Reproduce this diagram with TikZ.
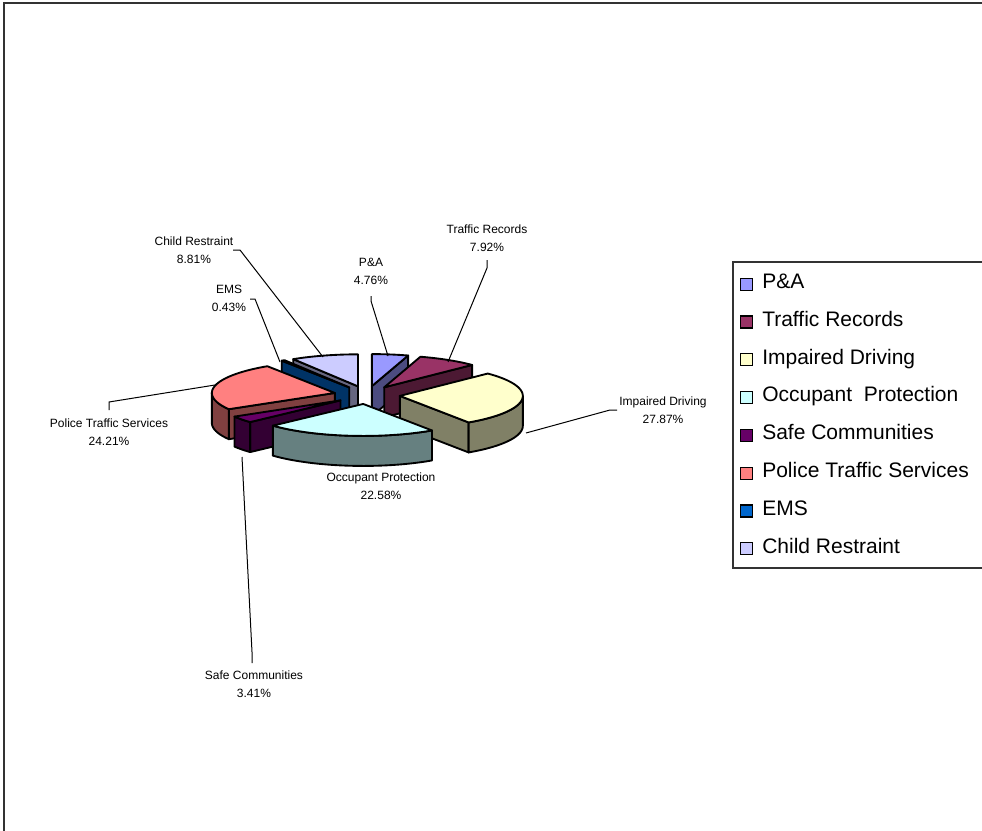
\documentclass[tikz,border=0pt]{standalone}
\usepackage{fontspec}
\setmainfont{Liberation Sans}
\definecolor{cpa}{HTML}{9999FF}
\definecolor{ctr}{HTML}{993366}
\definecolor{cid}{HTML}{FFFFCC}
\definecolor{cop}{HTML}{CCFFFF}
\definecolor{csc}{HTML}{660066}
\definecolor{cpt}{HTML}{FF8080}
\definecolor{cems}{HTML}{0066CC}
\definecolor{ccr}{HTML}{CCCCFF}
\tikzset{
    pieedge/.style={draw=black, line width=1.4pt, line join=round},
    leader/.style={draw=black, line width=0.75pt},
    lbl/.style={font=\fontsize{9}{13.5}\selectfont, align=center, inner sep=0pt},
    legkey/.style={draw=black, line width=0.8pt, minimum size=9pt, inner sep=0pt},
    legtext/.style={font=\fontsize{15.75}{18}\selectfont, anchor=base west, inner sep=0pt},
}
% pie centre, radii, depth and explode offset (in px)
\newcommand{\pcx}{367}
\newcommand{\pcy}{395}
\newcommand{\prx}{123}
\newcommand{\pry}{32}
\newcommand{\pdepth}{30}
\newcommand{\pex}{33}
\newcommand{\pey}{9}
% #1 start angle, #2 end angle (clockwise), #3 top colour, #4 side colour
\newcommand{\pieslice}[4]{%
    \pgfmathsetmacro{\slmid}{(#1+#2)/2}%
    \pgfmathsetmacro{\slx}{\pcx+\pex*cos(\slmid)}%
    \pgfmathsetmacro{\sly}{\pcy-\pey*sin(\slmid)}%
    \pgfmathtruncatemacro{\showa}{cos(#1)<-0.01 ? 1 : 0}%
    \pgfmathtruncatemacro{\showb}{cos(#2)>0.01 ? 1 : 0}%
    \pgfmathsetmacro{\wa}{max(#2,-180)}%
    \pgfmathsetmacro{\wb}{min(#1,0)}%
    \pgfmathtruncatemacro{\showw}{\wa<\wb ? 1 : 0}%
    \ifnum\showa=1
        \filldraw[pieedge, fill=#4] (\slx,\sly) -- ({\slx+\prx*cos(#1)},{\sly-\pry*sin(#1)}) -- ++(0,\pdepth) -- (\slx,{\sly+\pdepth}) -- cycle;
    \fi
    \ifnum\showb=1
        \filldraw[pieedge, fill=#4] (\slx,\sly) -- ({\slx+\prx*cos(#2)},{\sly-\pry*sin(#2)}) -- ++(0,\pdepth) -- (\slx,{\sly+\pdepth}) -- cycle;
    \fi
    \ifnum\showw=1
        \filldraw[pieedge, fill=#4] plot[domain=\wa:\wb, samples=30] ({\slx+\prx*cos(\x)},{\sly-\pry*sin(\x)})
            -- plot[domain=\wb:\wa, samples=30] ({\slx+\prx*cos(\x)},{\sly+\pdepth-\pry*sin(\x)}) -- cycle;
    \fi
    \filldraw[pieedge, fill=#3] (\slx,\sly) -- plot[domain=#1:#2, samples=40] ({\slx+\prx*cos(\x)},{\sly-\pry*sin(\x)}) -- cycle;
}

\begin{document}
\begin{tikzpicture}[x=0.75pt, y=-0.75pt]
    \useasboundingbox[fill=white] (0,0) rectangle (982,831);
    \draw[line width=1.5pt, black!80] (4,831) -- (4,3) -- (982,3);

    % back slices first
    \pieslice{90}{72.864}{cpa}{cpa!50!black}
    \pieslice{-238.248}{-270}{ccr}{ccr!50!black}
    \pieslice{-236.7}{-238.248}{cems}{cems!50!black}
    \pieslice{72.864}{44.352}{ctr}{ctr!50!black}
    \pieslice{-149.544}{-236.7}{cpt}{cpt!50!black}
    \pieslice{44.352}{-55.98}{cid}{cid!50!black}
    \pieslice{-137.268}{-149.544}{csc}{csc!50!black}
    \pieslice{-55.98}{-137.268}{cop}{cop!50!black}

    \node[lbl] (lbltr) at (487,238.5) {Traffic Records\\7.92\%};
    \node[lbl] (lblpa) at (371,271) {P\&A\\4.76\%};
    \node[lbl] (lblcr) at (194,250) {Child Restraint\\8.81\%};
    \node[lbl] (lblems) at (229,298.5) {EMS\\0.43\%};
    \node[lbl] (lblpt) at (109,432) {Police Traffic Services\\24.21\%};
    \node[lbl] (lblid) at (663,410) {Impaired Driving\\27.87\%};
    \node[lbl] (lblop) at (381,486) {Occupant Protection\\22.58\%};
    \node[lbl] (lblsc) at (254,684) {Safe Communities\\3.41\%};

    \coordinate (trfoot) at (487,260);
    \coordinate (trtip) at (448,362);
    \coordinate (pafoot) at (371,296);
    \coordinate (patip) at (388,356);
    \coordinate (crfoot) at (233,250);
    \coordinate (crtip) at (323,357);
    \coordinate (emsfoot) at (250,299);
    \coordinate (emstip) at (280,362);
    \coordinate (ptfoot) at (109,410);
    \coordinate (pttip) at (215,385);
    \coordinate (idfoot) at (617,410);
    \coordinate (idtip) at (526,433);
    \coordinate (scfoot) at (252,663);
    \coordinate (sctip) at (242,457);
    \draw[leader] (trfoot) -- ++(0,8) -- (trtip);
    \draw[leader] (pafoot) -- ++(0,5) -- (patip);
    \draw[leader] (crfoot) -- ++(7,0) -- (crtip);
    \draw[leader] (emsfoot) -- ++(5,0) -- (emstip);
    \draw[leader] (ptfoot) -- ++(0,-8) -- (pttip);
    \draw[leader] (idfoot) -- ++(-7,0) -- (idtip);
    \draw[leader] (scfoot) -- ++(0,-11) -- (sctip);

    % legend
    \draw[line width=0.8pt, black!80] (986,262) -- (733,262) -- (733,568) -- (986,568);
    \foreach \txt/\col [count=\i] in {P\&A/cpa, Traffic Records/ctr, Impaired Driving/cid,
        Occupant~~Protection/cop, Safe Communities/csc, Police Traffic Services/cpt, EMS/cems, Child Restraint/ccr}
    {
        \pgfmathsetmacro{\ly}{281.7+37.8*(\i-1)}
        \node[legkey, fill=\col] (key\i) at (746.5,\ly+2.5) {};
        \node[legtext] (leg\i) at (762,\ly+6.7) {\txt};
    }
\end{tikzpicture}
\end{document}
